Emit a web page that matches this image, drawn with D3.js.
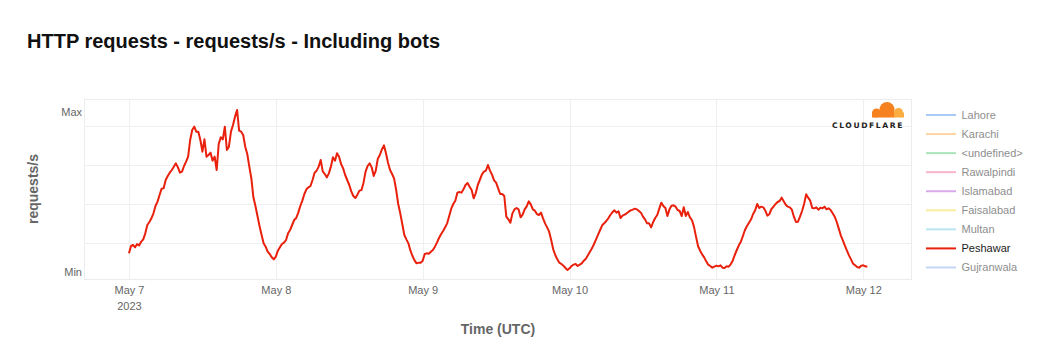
<!DOCTYPE html>
<html>
<head>
<meta charset="utf-8">
<script src="https://cdn.jsdelivr.net/npm/d3@7/dist/d3.min.js"></script>
<style>
  html, body { margin: 0; padding: 0; background: #fff; }
  svg { display: block; font-family: "Liberation Sans", Arial, Helvetica, sans-serif; }
</style>
</head>
<body>
<svg id="chart" width="1040" height="360"></svg>
<script>
// ---------------- DATA ----------------
const chartTitle = "HTTP requests - requests/s - Including bots";
const yAxisTitle = "requests/s";
const xAxisTitle = "Time (UTC)";
const seriesStart = "2023-05-07T00:00:00Z";
const stepMinutes = 20;
const xDomain = ["2023-05-06T16:39:00Z", "2023-05-12T07:58:00Z"];
const xTickDates = ["2023-05-07", "2023-05-08", "2023-05-09", "2023-05-10", "2023-05-11", "2023-05-12"];
const xTickYearLabel = "2023";
const yTickLabels = ["Min", "Max"];
const yGridValues = [80, 197, 314, 431];

const legendNames = ["Lahore", "Karachi", "<undefined>", "Rawalpindi", "Islamabad", "Faisalabad", "Multan", "Peshawar", "Gujranwala"];
const legendColors = ["#a9c9f6", "#fdd5a0", "#a8e5b9", "#f8b4cb", "#d9a9ee", "#fbec9e", "#b9e5f2", "#e8200c", "#c3d5f6"];
const activeSeries = "Peshawar";

// Peshawar, normalized requests/s, 20-minute steps
const may7 = [50,72,75,68,78,74,85,92,110,135,144,155,170,192,205,225,244,245,270,282,292,300,310,320,
  308,292,295,312,325,340,390,420,430,415,415,390,355,392,340,345,352,328,340,300,378,398,392,430,
  360,370,415,435,460,480,418,415,405,370,348,310,275,218,192,162,132,106,80,70,55,48,38,32];
const may8 = [40,58,68,78,82,90,110,120,135,150,156,172,192,208,228,242,248,252,270,292,298,310,330,296,
  288,278,290,310,338,328,350,340,318,305,285,270,255,236,222,216,226,238,240,262,295,312,320,308,
  282,298,334,345,362,374,350,322,300,288,274,240,198,170,138,105,92,80,58,42,29,20,22,22];
const may9 = [28,48,50,49,55,60,70,82,96,107,117,128,140,162,184,198,208,232,234,232,242,255,261,250,
  240,215,230,255,270,286,295,298,315,298,286,269,262,245,228,228,222,160,152,142,170,182,186,182,
  158,166,182,191,206,197,182,178,168,165,172,155,140,128,115,90,62,45,32,22,18,13,6,0];
const may10 = [5,12,16,18,12,16,20,28,34,44,55,65,78,92,106,120,134,140,147,155,165,173,179,172,
  176,156,163,166,170,175,179,181,184,182,177,172,160,152,140,140,128,144,156,165,184,202,192,186,
  162,182,193,194,190,180,177,162,188,162,174,158,150,130,100,72,58,47,38,26,16,12,7,10];
const may11 = [13,11,14,7,6,11,10,17,28,45,60,74,85,102,120,132,142,152,168,179,198,186,190,188,
  178,163,168,183,190,198,204,207,217,206,196,190,188,181,160,144,145,160,177,198,227,217,208,186,
  185,188,181,187,185,190,182,185,180,170,160,144,124,104,89,73,58,44,32,19,14,9,7,13,14,11,10];

const values = [].concat(may7, may8, may9, may10, may11);

// ---------------- CHART ----------------
const svg = d3.select("#chart");
const plot = { left: 84, right: 912, top: 99, bottom: 280 };

const t0 = new Date(seriesStart).getTime();
const data = values.map((v, i) => ({ t: new Date(t0 + i * stepMinutes * 60000), v }));

const x = d3.scaleUtc()
  .domain(xDomain.map(d => new Date(d)))
  .range([plot.left, plot.right]);
const yMin = d3.min(values), yMax = d3.max(values);
const y = d3.scaleLinear()
  .domain([yMin, yMax])
  .range([270, 110]);

// Title
svg.append("text")
  .attr("x", 27).attr("y", 48)
  .attr("font-size", 20).attr("font-weight", "bold").attr("fill", "#111")
  .text(chartTitle);

// Plot frame
svg.append("rect")
  .attr("x", plot.left + 0.5).attr("y", plot.top + 0.5)
  .attr("width", plot.right - plot.left - 1).attr("height", plot.bottom - plot.top - 1)
  .attr("fill", "none").attr("stroke", "#ececec");

// Grid lines
svg.append("g").selectAll("line").data(yGridValues).join("line")
  .attr("x1", plot.left).attr("x2", plot.right)
  .attr("y1", d => Math.round(y(d)) + 0.5).attr("y2", d => Math.round(y(d)) + 0.5)
  .attr("stroke", "#efefef");

const xTicks = xTickDates.map(d => new Date(d + "T00:00:00Z"));
svg.append("g").selectAll("line").data(xTicks).join("line")
  .attr("x1", d => Math.round(x(d)) + 0.5).attr("x2", d => Math.round(x(d)) + 0.5)
  .attr("y1", plot.top).attr("y2", plot.bottom)
  .attr("stroke", "#efefef");

// X axis
const fmt = d3.utcFormat("%b %-d");
const xAxis = d3.axisBottom(x).tickValues(xTicks).tickFormat(fmt).tickSize(0).tickPadding(0);
const gx = svg.append("g").attr("transform", `translate(0,${plot.bottom})`).call(xAxis);
gx.select(".domain").remove();
gx.selectAll("text")
  .attr("y", 14).attr("dy", null)
  .attr("font-size", 11).attr("fill", "#666")
  .attr("font-family", "Liberation Sans, Arial, sans-serif");
gx.selectAll(".tick").filter((d, i) => i === 0).append("text")
  .attr("y", 30).attr("text-anchor", "middle")
  .attr("font-size", 11).attr("fill", "#666")
  .attr("font-family", "Liberation Sans, Arial, sans-serif")
  .text(xTickYearLabel);

// Y axis
const yAxis = d3.axisLeft(y).tickValues([yMin, yMax])
  .tickFormat((d, i) => yTickLabels[i]).tickSize(0).tickPadding(0);
const gy = svg.append("g").attr("transform", `translate(82,0)`).call(yAxis);
gy.select(".domain").remove();
gy.selectAll("text")
  .attr("dy", "0.5em")
  .attr("font-size", 11).attr("fill", "#666")
  .attr("font-family", "Liberation Sans, Arial, sans-serif");

// Axis titles
svg.append("text")
  .attr("transform", "translate(38,189) rotate(-90)")
  .attr("text-anchor", "middle")
  .attr("font-size", 14).attr("font-weight", "bold").attr("fill", "#666")
  .text(yAxisTitle);
svg.append("text")
  .attr("x", 498).attr("y", 334)
  .attr("text-anchor", "middle")
  .attr("font-size", 14).attr("font-weight", "bold").attr("fill", "#666")
  .text(xAxisTitle);

// Line
const line = d3.line().x(d => x(d.t)).y(d => y(d.v));
svg.append("path").datum(data)
  .attr("d", line)
  .attr("fill", "none")
  .attr("stroke", legendColors[legendNames.indexOf(activeSeries)])
  .attr("stroke-width", 2)
  .attr("stroke-linejoin", "round");

// Cloudflare logo
const logo = svg.append("g");
const orange = "#f6821f", light = "#fbad41";
logo.append("circle").attr("cx", 887).attr("cy", 109.5).attr("r", 7.5).attr("fill", orange);
logo.append("circle").attr("cx", 876.5).attr("cy", 113).attr("r", 4.5).attr("fill", orange);
logo.append("rect").attr("x", 872).attr("y", 112).attr("width", 23).attr("height", 5.5).attr("fill", orange);
logo.append("circle").attr("cx", 898.5).attr("cy", 112.5).attr("r", 4.5).attr("fill", light);
logo.append("rect").attr("x", 894).attr("y", 112.5).attr("width", 10).attr("height", 5).attr("fill", light);
logo.append("text")
  .attr("x", 868).attr("y", 127.5).attr("text-anchor", "middle")
  .attr("font-size", 7.6).attr("font-weight", "bold").attr("letter-spacing", 1.6)
  .attr("font-family", "DejaVu Sans, sans-serif").attr("fill", "#222")
  .text("CLOUDFLARE");

// Legend
const legend = svg.append("g").selectAll("g").data(legendNames).join("g")
  .attr("transform", (d, i) => `translate(926,${115 + i * 19.06})`);
legend.append("line")
  .attr("x1", 0).attr("x2", 30).attr("y1", 0).attr("y2", 0)
  .attr("stroke", (d, i) => legendColors[i])
  .attr("stroke-width", 2);
legend.append("text")
  .attr("x", 35.5).attr("y", 0).attr("dy", "0.36em")
  .attr("font-size", 11)
  .attr("fill", d => d === activeSeries ? "#222" : "#8e8e8e")
  .text(d => d);
</script>
</body>
</html>
